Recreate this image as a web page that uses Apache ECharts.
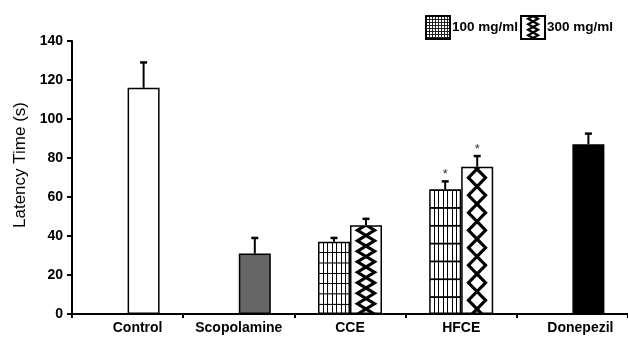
<!DOCTYPE html>
<html><head><meta charset="utf-8">
<script src="https://cdn.jsdelivr.net/npm/echarts@6/dist/echarts.min.js"></script>
<style>html,body{margin:0;padding:0;background:#fff}#c{width:628px;height:338px}</style>
</head><body><div id="c"></div>
<script>
// ---- data ----
const categories = ['Control', 'Scopolamine', 'CCE', 'HFCE', 'Donepezil'];
const dose100 = [null, null, 37, 64, null];
const dose100Err = [null, null, 2, 4, null];
const dose300 = [116, 31, 45.5, 75.5, 87];
const dose300Err = [13, 8, 3.3, 5.5, 5.5];
const star100 = [0, 0, 0, 1, 0];
const star300 = [0, 0, 0, 1, 0];
const yMin = 0, yMax = 140, yStep = 20;
const seriesNames = ['100 mg/ml', '300 mg/ml'];

// ---- styles ----
const FONT = '"Liberation Sans", Arial, sans-serif';
const fill100 = [null, null, 'grid', 'grid', null];
const fill300 = ['#ffffff', '#666666', 'zig', 'zig', '#000000'];
const labelPad = {Control: [0, 0, 0, 20], Donepezil: [0, 0, 0, 16]};
const BARW = 32;

function gridTile() {
  const c = document.createElement('canvas'); c.width = 32; c.height = 20;
  const g = c.getContext('2d');
  g.fillStyle = '#fff'; g.fillRect(0, 0, 32, 20);
  g.fillStyle = '#000';
  for (let k = 1; k < 7; k++) g.fillRect(Math.round(32 * k / 7), 0, 1, 20);
  g.fillRect(0, 0, 32, 2);
  return c;
}
function zigTile(w, p, a, lw) {
  const c = document.createElement('canvas'); c.width = w; c.height = p;
  const g = c.getContext('2d');
  g.fillStyle = '#fff'; g.fillRect(0, 0, w, p);
  g.strokeStyle = '#000'; g.lineWidth = lw; g.lineJoin = 'miter';
  const cx = w / 2;
  [1, -1].forEach(s => {
    g.beginPath();
    g.moveTo(cx - s * a, -p / 4);
    g.lineTo(cx + s * a, p / 4);
    g.lineTo(cx - s * a, 3 * p / 4);
    g.lineTo(cx + s * a, 5 * p / 4);
    g.stroke();
  });
  return c;
}
function smallGridTile() {
  const c = document.createElement('canvas'); c.width = 3; c.height = 3;
  const g = c.getContext('2d');
  g.fillStyle = '#fff'; g.fillRect(0, 0, 3, 3);
  g.fillStyle = '#222'; g.fillRect(0, 0, 1, 3); g.fillRect(0, 0, 3, 1);
  return c;
}
const GRID_TILE = gridTile();
const legendGrid = {image: smallGridTile(), repeat: 'repeat'};
const legendZig = {image: zigTile(24, 11, 5, 2.2), repeat: 'repeat'};

const chart = echarts.init(document.getElementById('c'), null, {renderer: 'canvas'});

function buildItems(values, fills, side, positioned) {
  return values.map((v, i) => {
    if (v == null) return null;
    let color = fills[i];
    if (color === 'grid' || color === 'zig') {
      if (!positioned) color = '#fff';
      else {
        const cx = chart.convertToPixel({xAxisIndex: 0}, i);
        const left = side < 0 ? cx - BARW : cx;
        const yTop = chart.convertToPixel({yAxisIndex: 0}, v);
        const yBot = chart.convertToPixel({yAxisIndex: 0}, 0);
        const h = yBot - yTop;
        if (color === 'grid') {
          color = {image: GRID_TILE, repeat: 'repeat', x: Math.round(left), y: yTop, scaleY: (h / 7) / 20};
        } else {
          const p = Math.round(2 * h / 8.4);
          color = {image: zigTile(BARW, p, 8.5, 3.2), repeat: 'repeat', x: Math.round(left), y: Math.round(yBot - 5)};
        }
      }
    }
    return {value: v, itemStyle: {color: color}};
  });
}

function errData() {
  const out = [];
  dose100.forEach((v, i) => { if (v != null) out.push([i, v, dose100Err[i], -1, star100[i]]); });
  dose300.forEach((v, i) => { if (v != null) out.push([i, v, dose300Err[i], 1, star300[i]]); });
  return out;
}

function makeOption(positioned) {
  return {
    animation: false,
    backgroundColor: '#fff',
    grid: {left: 72, top: 41, width: 558, bottom: 24, containLabel: false},
    legend: {
      data: seriesNames, left: 420, top: 10, itemWidth: 24, itemHeight: 23, itemGap: 2,
      icon: 'rect', selectedMode: false,
      textStyle: {color: '#000', fontFamily: FONT, fontWeight: 'bold', fontSize: 13.5, padding: [0, 0, 0, -3]}
    },
    graphic: [{
      type: 'text', x: 20, y: 165, rotation: Math.PI / 2,
      style: {text: 'Latency Time (s)', fontFamily: FONT, fontSize: 17, fontWeight: 'normal',
        fill: '#000', align: 'center', verticalAlign: 'middle'}
    }],
    xAxis: {
      type: 'category',
      data: categories.map(c => labelPad[c] ? {value: c, textStyle: {padding: labelPad[c]}} : c),
      axisLine: {lineStyle: {color: '#000', width: 2}},
      axisTick: {show: true, length: 4, lineStyle: {color: '#000', width: 2}},
      axisLabel: {color: '#000', fontFamily: FONT, fontWeight: 'bold', fontSize: 14, margin: 7,
        interval: 0, hideOverlap: false}
    },
    yAxis: {
      type: 'value', min: yMin, max: yMax, interval: yStep,
      splitLine: {show: false},
      axisLine: {show: true, lineStyle: {color: '#000', width: 2}},
      axisTick: {show: true, length: 5, lineStyle: {color: '#000', width: 2}},
      axisLabel: {color: '#000', fontFamily: FONT, fontWeight: 'bold', fontSize: 14, margin: 9}
    },
    series: [
      {
        name: seriesNames[0], type: 'bar', barWidth: BARW, barGap: '0%',
        itemStyle: {color: legendGrid, borderColor: '#000', borderWidth: 1.5},
        data: buildItems(dose100, fill100, -1, positioned)
      },
      {
        name: seriesNames[1], type: 'bar', barWidth: BARW, barGap: '0%',
        itemStyle: {color: legendZig, borderColor: '#000', borderWidth: 1.5},
        data: buildItems(dose300, fill300, 1, positioned)
      },
      {
        type: 'custom', z: 5, silent: true,
        renderItem: function (params, api) {
          const cat = api.value(0), val = api.value(1), err = api.value(2), side = api.value(3), star = api.value(4);
          const top = api.coord([cat, val]);
          const tip = api.coord([cat, val + err]);
          const x = top[0] + side * BARW / 2;
          const children = [
            {type: 'line', shape: {x1: x, y1: top[1], x2: x, y2: tip[1]}, style: {stroke: '#000', lineWidth: 2}},
            {type: 'line', shape: {x1: x - 3.5, y1: tip[1], x2: x + 3.5, y2: tip[1]}, style: {stroke: '#000', lineWidth: 2.5}}
          ];
          if (star) {
            children.push({type: 'text', x: x, y: tip[1] - 7,
              style: {text: '*', fontFamily: FONT, fontSize: 13, fill: '#333', align: 'center', verticalAlign: 'middle'}});
          }
          return {type: 'group', children: children};
        },
        data: errData()
      }
    ]
  };
}

chart.setOption(makeOption(false));
chart.setOption(makeOption(true));
</script>
</body></html>
